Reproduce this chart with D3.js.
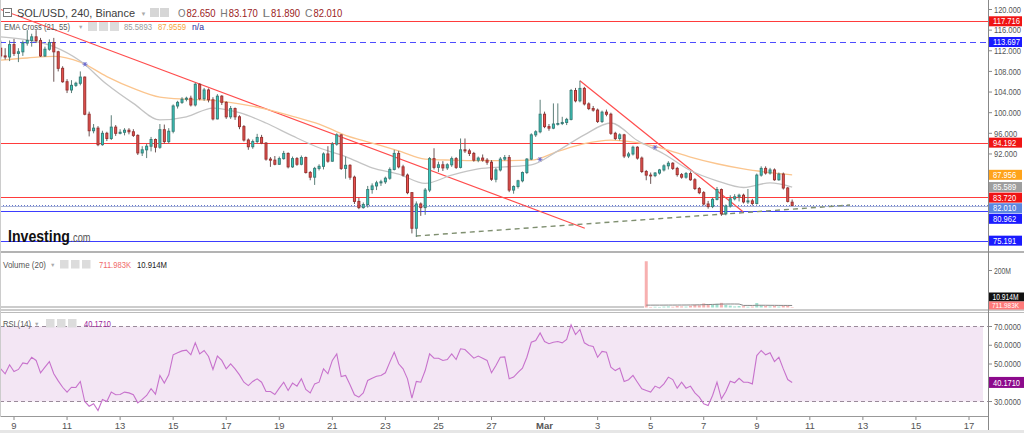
<!DOCTYPE html>
<html><head><meta charset="utf-8">
<script src="https://cdn.jsdelivr.net/npm/d3@7/dist/d3.min.js"></script>
<style>
html,body{margin:0;padding:0;background:#fff;}
svg{display:block;font-family:"Liberation Sans",Arial,sans-serif;}
</style></head><body>
<svg id="chart" width="1024" height="433"></svg>
<script>
// ---------------- DATA ----------------
const firstCandleUTC = [2022, 1, 8, 12]; // Feb 8 2022 12:00, 4h candles
const opens = [112.5,111.0,110.8,113.2,111.5,111.8,113.5,114.0,114.7,114.0,111.0,112.3,113.6,111.8,108.6,106.0,104.4,105.3,105.7,106.9,
99.7,96.5,97.0,93.8,96.0,95.0,97.2,96.0,96.2,96.6,96.3,95.6,92.2,92.8,93.5,94.8,93.3,96.7,94.4,96.4,
101.3,102.0,102.6,102.8,101.5,105.5,102.7,104.4,102.5,98.8,103.2,102.0,99.2,100.8,99.2,97.3,94.7,93.4,94.4,95.2,
94.1,91.0,90.8,90.0,91.1,92.1,89.5,91.1,90.0,91.3,88.4,87.5,89.2,89.6,92.0,90.6,93.9,95.7,89.2,89.8,
87.5,82.8,81.6,82.2,85.1,85.8,86.4,86.6,87.3,89.0,92.1,89.5,87.9,84.5,77.6,82.3,81.6,85.0,91.1,89.4,
89.9,89.3,89.9,91.1,89.4,92.8,92.6,92.1,90.8,91.2,90.8,90.4,87.1,88.9,91.0,91.3,85.0,85.7,86.8,88.4,
91.0,95.7,96.3,99.7,97.3,97.0,97.8,97.9,98.1,98.7,104.3,102.3,104.7,101.7,100.8,100.5,98.3,100.1,99.7,96.0,
95.0,95.7,91.6,92.0,93.3,91.2,88.6,87.9,87.8,88.3,88.9,89.7,90.2,89.2,88.0,87.5,88.2,87.0,85.3,84.5,
82.3,81.8,83.2,85.1,80.4,81.9,83.3,83.7,84.0,82.7,82.9,82.4,87.9,89.2,88.3,88.9,87.0,88.1,85.4,82.65];
const highs = [114.0,112.5,114.0,114.3,112.5,114.0,116.0,115.3,116.0,114.5,112.8,114.2,114.5,112.0,109.0,106.5,106.3,106.0,108.0,107.0,
100.2,97.8,97.4,96.5,96.3,99.5,97.6,96.8,97.0,97.0,96.8,95.8,93.5,94.0,95.3,95.0,97.8,97.7,97.0,101.6,
102.3,103.0,103.1,103.3,105.8,105.7,104.8,104.7,103.0,103.6,103.4,102.2,101.3,101.0,99.5,97.6,95.0,94.8,95.9,95.7,
94.3,91.4,91.6,91.5,92.6,92.3,91.5,91.4,91.7,91.5,88.7,89.5,90.0,92.3,93.5,94.3,96.0,95.8,91.5,90.0,
87.8,83.5,82.6,85.8,86.3,86.8,87.0,87.6,89.4,92.8,92.6,89.9,88.2,84.6,82.8,82.6,85.4,91.4,93.1,90.5,
90.6,90.2,91.5,91.4,95.0,95.0,93.0,92.4,91.5,91.9,91.2,90.8,89.3,91.4,91.8,91.8,85.9,87.0,88.6,91.2,
96.0,96.6,102.5,100.2,97.8,101.8,101.8,99.2,99.0,104.6,104.8,106.2,105.0,102.0,101.3,100.8,100.4,100.6,100.0,96.3,
96.0,95.9,92.4,93.6,93.5,91.5,88.9,88.4,88.5,89.1,90.0,90.6,90.4,89.5,88.3,88.5,88.6,87.3,85.6,84.8,
82.9,83.5,85.6,85.3,82.2,84.0,84.2,84.3,84.3,85.2,83.3,88.2,89.6,89.6,89.3,89.2,88.4,88.4,85.6,83.17];
const lows = [110.5,110.3,110.0,111.0,109.8,111.0,113.0,112.8,113.5,110.8,110.8,112.0,106.0,108.0,105.8,103.8,103.8,105.0,105.3,99.5,
95.4,96.0,93.5,93.6,94.5,94.7,95.5,95.8,95.6,95.8,95.3,91.8,91.6,91.2,92.5,92.3,93.0,94.0,94.0,96.0,
100.8,101.7,102.2,101.2,101.2,102.4,102.3,102.0,98.5,98.7,101.5,98.8,98.8,98.6,96.8,94.4,92.8,93.0,94.0,93.9,
90.7,89.5,89.8,89.9,90.9,89.2,89.3,89.7,89.8,88.2,86.9,86.0,88.8,89.0,90.3,90.5,93.6,88.9,87.2,87.0,
82.3,81.3,81.4,81.6,84.3,85.0,85.8,86.2,87.0,88.8,89.2,87.6,84.2,76.6,75.9,80.0,80.2,84.6,89.0,88.5,
88.7,88.9,89.5,89.1,89.2,92.2,91.6,90.5,90.4,90.5,89.9,86.8,86.5,88.6,90.7,84.6,84.3,85.3,86.5,88.1,
90.8,95.3,96.0,97.0,96.5,96.8,97.5,97.6,97.6,98.5,102.0,102.0,101.4,100.5,100.2,98.0,98.0,99.3,95.7,94.7,
94.6,91.2,91.2,91.7,90.9,88.3,86.9,86.2,87.5,88.0,88.6,89.0,88.9,87.6,87.2,87.2,86.8,85.0,84.2,82.0,
81.4,81.5,83.0,80.0,80.1,81.6,83.0,82.8,82.4,82.3,82.0,82.2,87.6,88.0,88.0,86.8,86.8,85.1,82.6,81.89];
const closes = [111.0,110.8,113.2,111.5,111.8,113.5,114.0,114.7,114.0,111.0,112.3,113.6,111.8,108.6,106.0,104.4,105.3,105.7,106.9,99.7,
96.5,97.0,93.8,96.0,95.0,97.2,96.0,96.2,96.6,96.3,95.6,92.2,92.8,93.5,94.8,93.3,96.7,94.4,96.4,101.3,
102.0,102.6,102.8,101.5,105.5,102.7,104.4,102.5,98.8,103.2,102.0,99.2,100.8,99.2,97.3,94.7,93.4,94.4,95.2,94.1,
91.0,90.8,90.0,91.1,92.1,89.5,91.1,90.0,91.3,88.4,87.5,89.2,89.6,92.0,90.6,93.9,95.7,89.2,89.8,87.5,
82.8,81.6,82.2,85.1,85.8,86.4,86.6,87.3,89.0,92.1,89.5,87.9,84.5,77.6,82.3,81.6,85.0,91.1,89.4,89.9,
89.3,89.9,91.1,89.4,92.8,92.6,92.1,90.8,91.2,90.8,90.4,87.1,88.9,91.0,91.3,85.0,85.7,86.8,88.4,91.0,
95.7,96.3,99.7,97.3,97.0,97.8,97.9,98.1,98.7,104.3,102.3,104.7,101.7,100.8,100.5,98.3,100.1,99.7,96.0,95.0,
95.7,91.6,92.0,93.3,91.2,88.6,87.9,87.8,88.3,88.9,89.7,90.2,89.2,88.0,87.5,88.2,87.0,85.3,84.5,82.3,
81.8,83.2,85.1,80.4,81.9,83.3,83.7,84.0,82.7,82.9,82.4,87.9,89.2,88.3,88.9,87.0,88.1,85.4,82.8,82.01];

// EMA values read every 6 candles (index) from the picture
const emaIndex = [0,6,12,18,24,30,36,42,48,54,60,66,72,78,84,90,96,102,108,114,120,126,132,138,144,150,156,162,168,174,179];
const ema21 = [114.7,114.1,112.8,110.0,105.5,101.8,98.6,99.2,100.9,100.0,98.0,95.5,93.2,91.5,89.3,88.1,86.3,87.9,89.1,89.5,89.9,92.6,95.7,98.0,94.6,92.0,88.8,86.8,85.5,86.4,85.589];
const ema55 = [110.2,110.6,110.9,109.8,107.0,104.7,103.0,102.6,102.4,101.7,100.7,99.3,97.8,95.6,94.1,92.6,91.0,90.8,90.7,90.7,90.8,92.5,94.0,94.7,94.2,93.0,91.4,90.1,89.1,88.4,87.956];
const crossIndex = [19.06, 121.96, 148.0];
const crossPrice = [109.4, 90.97, 93.3];

// RSI(14) per candle
const rsi = [47.4,44.8,49.6,46.0,47.1,50.6,50.1,53.6,51.9,45.3,48.3,51.3,44.8,41.0,37.6,35.0,37.6,37.5,40.7,30.0,
27.5,28.8,25.2,31.1,30.0,35.0,33.6,33.7,35.0,34.6,33.6,29.3,31.1,33.2,36.8,33.9,43.9,39.8,44.2,54.9,
56.0,57.0,57.4,54.9,61.3,55.4,57.2,54.0,47.1,54.2,51.9,47.4,50.1,47.4,44.2,40.3,38.5,40.7,42.1,40.3,
35.3,35.3,33.7,37.1,40.3,35.9,39.8,38.2,42.1,36.4,34.6,39.4,40.3,47.4,44.8,51.9,55.4,43.3,43.9,38.9,
33.6,32.3,34.6,41.2,42.4,43.5,43.9,45.3,51.0,56.3,50.1,47.4,42.1,31.8,40.7,40.3,46.5,55.4,53.1,53.1,
51.9,52.4,55.4,52.4,58.1,57.7,55.4,53.1,54.2,53.1,51.9,45.3,49.2,53.6,53.8,42.1,43.0,45.5,47.8,53.6,
61.6,62.5,66.6,62.0,60.8,61.6,62.0,61.3,63.1,70.9,65.7,68.4,61.3,59.9,59.3,53.6,56.7,56.3,48.3,46.5,
47.8,40.7,41.6,43.9,40.3,36.8,35.9,35.0,38.2,37.1,39.4,43.0,41.7,37.1,40.3,37.1,38.2,34.6,32.3,28.8,
27.9,33.2,40.3,31.4,35.3,40.8,40.0,42.4,40.3,40.3,39.4,54.5,57.2,54.9,56.0,51.3,53.6,47.4,41.7,40.171];

// Volume (millions) per candle, only available from index 146
const volumeStart = 146;
const volumes = [250,3,4,3,5,6,4,8,6,5,9,14,12,22,18,15,20,25,14,10,6,8,7,4,5,24,12,8,6,8,5,9,10,0.712];
const volumeMA = [12.8,12.8,12.9,12.9,13.0,13.1,13.1,13.3,13.4,13.5,13.7,14.1,14.5,15.3,16.0,16.6,17.4,18.4,18.8,19.0,
18.9,18.6,11.2,11.3,11.1,12.0,12.2,12.0,11.8,11.7,11.4,11.3,11.2,10.914];

// Horizontal levels, trendlines
const levels = [117.716, 113.697, 94.192, 83.720, 80.962, 75.191];
const lastPrice = 82.010;
const trendFromIndex = [-0.17, 131.0, 93.9];
const trendFromPrice = [120.06, 106.2, 76.1];
const trendToIndex = [132.1, 167.9, 192.1];
const trendToPrice = [77.6, 80.8, 82.1];

const priceTicks = [120,116,112,108,104,100,96,92,88,84,80,76];
const rsiTicks = [70,60,50,30];
const volTicks = [200];
const xTickDays = [[1,9],[1,11],[1,13],[1,15],[1,17],[1,19],[1,21],[1,23],[1,25],[1,27],[2,1],[2,3],[2,5],[2,7],[2,9],[2,11],[2,13],[2,15],[2,17]];
const xTickLabels = ["9","11","13","15","17","19","21","23","25","27","Mar","3","5","7","9","11","13","15","17"];

// ---------------- DRAW ----------------
const svg = d3.select("#chart");
const W = 1024, AX = 988;
const T0 = Date.UTC(...firstCandleUTC);
const H4 = 4 * 3600 * 1000;
const x = d3.scaleUtc().domain([new Date(Date.UTC(2022,1,9)), new Date(Date.UTC(2022,2,17))]).range([14, 969]);
const xi = i => x(new Date(T0 + i * H4));
const y = d3.scaleLinear().domain([120, 76]).range([9.5, 236.5]);
const yR = d3.scaleLinear().domain([70, 30]).range([326.5, 401.5]);
const yV = d3.scaleLinear().domain([0, 200]).range([307.5, 270.5]);

function txt(parent, px, py, size, color, str, len, extra) {
  const t = parent.append("text").attr("x", px).attr("y", py).attr("font-size", size).attr("fill", color).text(str);
  if (len) t.attr("textLength", len).attr("lengthAdjust", "spacingAndGlyphs");
  if (extra) extra(t);
  return t;
}
const axLen = s => s.length * 3.85;

const defs = svg.append("defs");
defs.append("clipPath").attr("id","clipMain").append("rect").attr("x",0).attr("y",0).attr("width",AX).attr("height",251);
defs.append("clipPath").attr("id","clipVol").append("rect").attr("x",0).attr("y",253).attr("width",AX).attr("height",56);
defs.append("clipPath").attr("id","clipRsi").append("rect").attr("x",0).attr("y",313).attr("width",AX).attr("height",103);

svg.append("rect").attr("width",W).attr("height",433).attr("fill","#fff");

// ---- main pane ----
const gm = svg.append("g").attr("clip-path","url(#clipMain)");
const levelColors = ["#ff3b3b","#4d4dff","#ff3b3b","#ff3b3b","#3d3dff","#3d3dff"];
const levelDash = [null,"6,4",null,null,null,null];
gm.selectAll("line.level").data(levels).join("line").attr("class","level")
  .attr("x1",0).attr("x2",AX).attr("y1",d=>Math.round(y(d))+0.5).attr("y2",d=>Math.round(y(d))+0.5)
  .attr("stroke",(d,i)=>levelColors[i]).attr("stroke-width",1.2)
  .attr("stroke-dasharray",(d,i)=>levelDash[i]);
gm.append("line").attr("x1",0).attr("x2",AX).attr("y1",Math.round(y(lastPrice))+1.5).attr("y2",Math.round(y(lastPrice))+1.5)
  .attr("stroke","#aab4d8").attr("stroke-width",1);
gm.append("line").attr("x1",0).attr("x2",AX).attr("y1",Math.round(y(lastPrice))+0.5).attr("y2",Math.round(y(lastPrice))+0.5)
  .attr("stroke","#6677cc").attr("stroke-width",1).attr("stroke-dasharray","1,2");

const trendColors = ["#ff4d4d","#ff4d4d","#7f8f70"];
const trendDash = [null,null,"5,4"];
trendFromIndex.forEach((fi,k)=>{
  gm.append("line").attr("x1",xi(fi)).attr("y1",y(trendFromPrice[k])).attr("x2",xi(trendToIndex[k])).attr("y2",y(trendToPrice[k]))
    .attr("stroke",trendColors[k]).attr("stroke-width",k===2?1.4:1.2).attr("stroke-dasharray",trendDash[k]);
});

const emaLine = vals => d3.line().curve(d3.curveMonotoneX).x((d,i)=>xi(emaIndex[i])).y(d=>y(d))(vals);
gm.append("path").attr("d",emaLine(ema55)).attr("fill","none").attr("stroke","#fbc58e").attr("stroke-width",1.3);
gm.append("path").attr("d",emaLine(ema21)).attr("fill","none").attr("stroke","#c4c4c4").attr("stroke-width",1.3);

const candles = closes.map((c,i)=>({i, o:opens[i], h:highs[i], l:lows[i], c, up:c>=opens[i]}));
gm.selectAll("line.wick").data(candles).join("line").attr("class","wick")
  .attr("x1",d=>xi(d.i)).attr("x2",d=>xi(d.i)).attr("y1",d=>y(d.h)).attr("y2",d=>y(d.l))
  .attr("stroke",d=>d.up?"#5d7f79":"#6d5656").attr("stroke-width",1);
gm.selectAll("rect.body").data(candles).join("rect").attr("class","body")
  .attr("x",d=>xi(d.i)-1).attr("width",2)
  .attr("y",d=>y(Math.max(d.o,d.c)))
  .attr("height",d=>Math.max(Math.abs(y(d.o)-y(d.c)),0.8))
  .attr("fill",d=>d.up?"#34d1c4":"#ee5350")
  .attr("stroke",d=>d.up?"#3a7d78":"#9a3432").attr("stroke-width",1);

crossIndex.forEach((ci,k)=>{
  const cx = xi(ci), cy = y(crossPrice[k]);
  const g = gm.append("g").attr("stroke","#6a6ad0").attr("stroke-width",1);
  [0,60,120].forEach(a=>{const r=a*Math.PI/180; g.append("line").attr("x1",cx-2.5*Math.cos(r)).attr("y1",cy-2.5*Math.sin(r)).attr("x2",cx+2.5*Math.cos(r)).attr("y2",cy+2.5*Math.sin(r));});
});

// header texts
const hdr = svg.append("g");
hdr.append("rect").attr("x",3.5).attr("y",8.5).attr("width",8).attr("height",8).attr("fill","#fff").attr("stroke","#777");
hdr.append("line").attr("x1",5).attr("x2",10).attr("y1",12.5).attr("y2",12.5).attr("stroke","#777");
txt(hdr,17,17,11.8,"#3c3c3c","SOL/USD, 240, Binance",118);
txt(hdr,140.5,16,6,"#aaa","▼");
[150,160].forEach(px=>hdr.append("rect").attr("x",px).attr("y",8).attr("width",9).attr("height",9).attr("fill","#d6d6d6"));
[["O","82.650"],["H","83.170"],["L","81.890"],["C","82.010"]].forEach(([k,v],j)=>{
  const gx = 178 + j*42.3;
  txt(hdr,gx,17,11.8,"#777",k,7.5);
  txt(hdr,gx+8.5,17,11.8,"#9b2323",v,29);
});
txt(hdr,4,29.5,9.2,"#555","EMA Cross (21, 55)",66);
txt(hdr,78,28.5,5.5,"#aaa","▼");
[88,99,110].forEach(px=>hdr.append("rect").attr("x",px).attr("y",22).attr("width",9).attr("height",9).attr("fill","#dcdcdc"));
txt(hdr,124,29.5,9.2,"#999","85.5893",28);
txt(hdr,158,29.5,9.2,"#f5a33a","87.9559",28);
txt(hdr,192,29.5,9.2,"#2a2a9a","n/a",12);

// logo
txt(svg,8,242,17,"#111","Investing",62,t=>t.attr("font-weight","bold"));
txt(svg,70.5,242,12.5,"#555",".com",20);

// ---- volume pane ----
const gv = svg.append("g").attr("clip-path","url(#clipVol)");
gv.append("line").attr("x1",0).attr("x2",xi(volumeStart-0.5)).attr("y1",yV(0)-0.5).attr("y2",yV(0)-0.5).attr("stroke","#999");
gv.selectAll("rect.vol").data(volumes).join("rect").attr("class","vol")
  .attr("x",(d,k)=>xi(volumeStart+k)-1.5).attr("width",3)
  .attr("y",d=>yV(d)).attr("height",d=>Math.max(yV(0)-yV(d),0.5))
  .attr("fill",(d,k)=>candles[volumeStart+k].up?"#9fe0cf":"#f7b0b0");
gv.append("path").attr("fill","none").attr("stroke","#888").attr("stroke-width",1)
  .attr("d", d3.line().x((d,k)=>xi(volumeStart+k)).y(d=>yV(d))(volumeMA));
txt(svg,3,268,8.6,"#555","Volume (20)",43);
txt(svg,50,267,5.5,"#aaa","▼");
[60,71,82].forEach(px=>svg.append("rect").attr("x",px).attr("y",260).attr("width",8.5).attr("height",8.5).attr("fill","#dcdcdc"));
txt(svg,99,268,8.6,"#f06a6a","711.983K",32);
txt(svg,137,268,8.6,"#222","10.914M",30);

// ---- RSI pane ----
const gr = svg.append("g").attr("clip-path","url(#clipRsi)");
gr.append("rect").attr("x",0).attr("y",yR(70)).attr("width",AX-5).attr("height",yR(30)-yR(70)).attr("fill","#f3e6f4");
[70,30].forEach(v=>gr.append("line").attr("x1",0).attr("x2",AX).attr("y1",yR(v)).attr("y2",yR(v))
  .attr("stroke","#9a8a9a").attr("stroke-dasharray","4,3").attr("stroke-width",1));
gr.append("path").attr("fill","none").attr("stroke","#c772cc").attr("stroke-width",1.1)
  .attr("d", d3.line().x((d,i)=>xi(i)).y(d=>yR(d))(rsi));
txt(svg,3,327,8.6,"#555","RSI (14)",28);
txt(svg,34,326,5.5,"#aaa","▼");
[46,57,68].forEach(px=>svg.append("rect").attr("x",px).attr("y",319).attr("width",8.5).attr("height",8.5).attr("fill","#dcdcdc"));
txt(svg,84,327,8.6,"#9b1e9b","40.1710",27);

// ---- separators & axes ----
svg.append("line").attr("x1",0).attr("x2",W).attr("y1",252).attr("y2",252).attr("stroke","#9a9a9a").attr("stroke-width",1.5);
svg.append("line").attr("x1",0).attr("x2",W).attr("y1",310).attr("y2",310).attr("stroke","#9a9a9a").attr("stroke-width",1.2);
svg.append("line").attr("x1",0).attr("x2",W).attr("y1",312.5).attr("y2",312.5).attr("stroke","#bbb").attr("stroke-width",1);
svg.append("line").attr("x1",0).attr("x2",AX).attr("y1",416.5).attr("y2",416.5).attr("stroke","#999").attr("stroke-width",1);
svg.append("line").attr("x1",0.5).attr("x2",0.5).attr("y1",0).attr("y2",417).attr("stroke","#ccc");
svg.append("line").attr("x1",AX+0.5).attr("x2",AX+0.5).attr("y1",0).attr("y2",430).attr("stroke","#888").attr("stroke-width",1);
svg.append("rect").attr("x",0).attr("y",430).attr("width",W).attr("height",3).attr("fill","#e6e6e6");

// value labels (positions resolved first so covered tick labels are skipped)
const labs = [
  {v:117.716, c:"#f01414"},{v:113.697, c:"#1a1aff"},{v:94.192, c:"#f01414"},
  {v:87.956, c:"#ffa31a"},{v:85.589, c:"#9e9e9e"},{v:83.720, c:"#f01414"},
  {v:82.010, c:"#5b86e0"},{v:80.962, c:"#1a1aff"},{v:75.191, c:"#1a1aff"}];
labs.sort((a,b)=>b.v-a.v);
let prev = -100;
labs.forEach(l=>{ let yy=y(l.v); if(yy-prev<10.6) yy=prev+10.6; l.yy=yy; prev=yy; });

// price axis
const ga = svg.append("g");
ga.selectAll("line.pt").data(priceTicks).join("line").attr("x1",AX).attr("x2",AX+4).attr("y1",d=>y(d)).attr("y2",d=>y(d)).attr("stroke","#888");
priceTicks.forEach(d=>{
  const covered = labs.some(l=>Math.abs(l.yy-y(d))<8);
  if (covered) return;
  const s=d3.format(".3f")(d); txt(ga,994,y(d)+3.2,8.6,"#555",s,axLen(s));
});
labs.forEach(l=>{
  ga.append("rect").attr("x",989).attr("y",l.yy-5).attr("width",33).attr("height",10).attr("fill",l.c);
  const s = d3.format(".3f")(l.v);
  txt(ga,993,l.yy+3.2,8.6,"#fff",s,axLen(s));
});

// volume axis
volTicks.forEach(d=>{ const s=d+"M"; txt(svg,994,yV(d)+3,8.6,"#555",s,17); });
svg.selectAll("line.vt").data(volTicks).join("line").attr("x1",AX).attr("x2",AX+4).attr("y1",d=>yV(d)).attr("y2",d=>yV(d)).attr("stroke","#888");
svg.append("rect").attr("x",989).attr("y",292.5).attr("width",35).attr("height",9).attr("fill","#111");
txt(svg,992.5,300,8.2,"#fff","10.914M",26);
svg.append("rect").attr("x",989).attr("y",301.5).attr("width",35).attr("height",8).attr("fill","#ff7a7a");
txt(svg,992,308.2,7.8,"#fff","711.983K",27);

// rsi axis
svg.selectAll("line.rt").data(rsiTicks).join("line").attr("x1",AX).attr("x2",AX+4).attr("y1",d=>yR(d)).attr("y2",d=>yR(d)).attr("stroke","#888");
rsiTicks.forEach(d=>{ const s=d3.format(".4f")(d); txt(svg,994,yR(d)+3.2,8.6,"#555",s,axLen(s)); });
const rLast = rsi[rsi.length-1];
svg.append("rect").attr("x",989).attr("y",yR(rLast)-5.5).attr("width",35).attr("height",11).attr("fill","#8c0a8c");
txt(svg,993,yR(rLast)+3.3,8.6,"#fff",d3.format(".4f")(rLast),27);

// time axis
const tickDates = xTickDays.map(([m,d])=>new Date(Date.UTC(2022,m,d)));
svg.selectAll("line.xt").data(tickDates).join("line").attr("x1",d=>x(d)).attr("x2",d=>x(d)).attr("y1",417).attr("y2",420).attr("stroke","#888");
svg.selectAll("text.xt").data(tickDates).join("text").attr("x",d=>x(d)).attr("y",428.5).attr("text-anchor","middle")
  .attr("font-size",9.5).attr("fill","#555").attr("font-weight",(d,i)=>xTickLabels[i]==="Mar"?"bold":"normal")
  .text((d,i)=>xTickLabels[i]);
</script>
</body></html>
